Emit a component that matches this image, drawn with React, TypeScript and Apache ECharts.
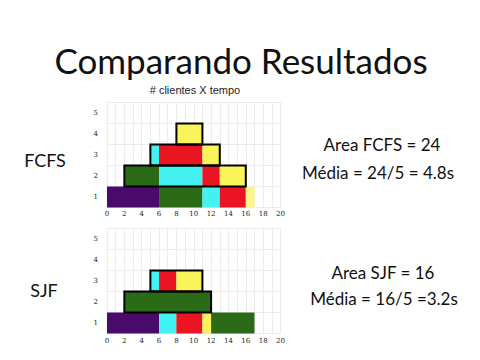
import React, { useEffect, useRef } from "react";
import * as echarts from "echarts";

const rowLabels = ["1", "2", "3", "4", "5"];
const xTicks = [0, 20];

// [start, end, rowIndex, colour key]
const fcfsSegments: [number, number, number, string][] = [
  [0, 6, 0, "purple"], [6, 11, 0, "green"], [11, 13, 0, "cyan"], [13, 16, 0, "red"], [16, 17, 0, "yellowLight"],
  [2, 6, 1, "green"], [6, 11, 1, "cyan"], [11, 13, 1, "red"], [13, 16, 1, "yellow"],
  [5, 6, 2, "cyan"], [6, 11, 2, "red"], [11, 13, 2, "yellow"],
  [8, 11, 3, "yellow"],
];
const fcfsOutlines: [number, number, number][] = [
  [2, 16, 1], [5, 13, 2], [8, 11, 3],
];

const sjfSegments: [number, number, number, string][] = [
  [0, 6, 0, "purple"], [6, 8, 0, "cyan"], [8, 11, 0, "red"], [11, 12, 0, "yellow"], [12, 17, 0, "green"],
  [2, 12, 1, "green"],
  [5, 6, 2, "cyan"], [6, 8, 2, "red"], [8, 11, 2, "yellow"],
];
const sjfOutlines: [number, number, number][] = [
  [2, 12, 1], [5, 11, 2],
];

const palette: Record<string, string> = {
  purple: "#4a0a6c",
  green: "#2b6b18",
  cyan: "#44f2f2",
  red: "#ea1422",
  yellow: "#fbf35a",
  yellowLight: "#fdf58a",
};

export default function App() {
  const ref = useRef<HTMLDivElement>(null);
  useEffect(() => {
    if (!ref.current) return;
    const chart = echarts.init(ref.current, undefined, { renderer: "svg" });

    const mkSegData = (segs: [number, number, number, string][]) =>
      segs.map((s) => ({ value: [s[0], s[1], s[2]], itemStyle: { color: palette[s[3]] } }));

    const segRenderItem = (params: any, api: any) => {
      const p0 = api.coord([api.value(0), api.value(2)]);
      const p1 = api.coord([api.value(1), api.value(2)]);
      const h = api.size([0, 1])[1];
      return {
        type: "rect",
        shape: { x: p0[0], y: p0[1] - h / 2, width: p1[0] - p0[0], height: h },
        style: { fill: api.visual("color") },
      };
    };
    const outRenderItem = (params: any, api: any) => {
      const p0 = api.coord([api.value(0), api.value(2)]);
      const p1 = api.coord([api.value(1), api.value(2)]);
      const h = api.size([0, 1])[1];
      return {
        type: "rect",
        shape: { x: p0[0], y: p0[1] - h / 2, width: p1[0] - p0[0], height: h },
        style: { fill: "none", stroke: "#000", lineWidth: 2 },
      };
    };

    const xAxisCommon = {
      type: "value",
      min: xTicks[0],
      max: xTicks[1],
      interval: 1,
      axisLine: { show: false },
      axisTick: { show: false },
      splitLine: { show: true, lineStyle: { color: "#ececec", width: 1 } },
      axisLabel: {
        fontSize: 7,
        color: "#222",
        margin: 4,
        fontFamily: "DejaVu Serif",
        formatter: (v: number) => (v % 2 === 0 ? String(v) : ""),
      },
    };
    const yAxisCommon = {
      type: "category",
      data: rowLabels,
      axisLine: { show: false },
      axisTick: { show: false },
      splitLine: { show: true, lineStyle: { color: "#ececec", width: 1 } },
      axisLabel: { fontSize: 7, color: "#222", margin: 9, fontFamily: "DejaVu Serif" },
    };

    chart.setOption({
      animation: false,
      backgroundColor: "#ffffff",
      grid: [
        { left: 107, top: 102.5, width: 173.5, height: 105 },
        { left: 107, top: 228.5, width: 173.5, height: 105 },
      ],
      xAxis: [
        { ...xAxisCommon, gridIndex: 0, axisLabel: { ...xAxisCommon.axisLabel, margin: 3 } },
        { ...xAxisCommon, gridIndex: 1 },
      ],
      yAxis: [
        { ...yAxisCommon, gridIndex: 0 },
        { ...yAxisCommon, gridIndex: 1 },
      ],
      series: [
        { type: "custom", xAxisIndex: 0, yAxisIndex: 0, renderItem: segRenderItem, data: mkSegData(fcfsSegments), encode: { x: [0, 1], y: 2 }, z: 2 },
        { type: "custom", xAxisIndex: 0, yAxisIndex: 0, renderItem: outRenderItem, data: fcfsOutlines.map((o) => [o[0], o[1], o[2]]), encode: { x: [0, 1], y: 2 }, z: 3 },
        { type: "custom", xAxisIndex: 1, yAxisIndex: 1, renderItem: segRenderItem, data: mkSegData(sjfSegments), encode: { x: [0, 1], y: 2 }, z: 2 },
        { type: "custom", xAxisIndex: 1, yAxisIndex: 1, renderItem: outRenderItem, data: sjfOutlines.map((o) => [o[0], o[1], o[2]]), encode: { x: [0, 1], y: 2 }, z: 3 },
      ],
      graphic: [
        { type: "text", x: 241, y: 60, style: { text: "Comparando Resultados", font: "35px Lato", fill: "#111", textAlign: "center", textVerticalAlign: "middle" } },
        { type: "text", x: 195, y: 90, style: { text: "# clientes X tempo", font: "11px 'Liberation Sans'", fill: "#222", textAlign: "center", textVerticalAlign: "middle" } },
        { type: "text", x: 45, y: 160, style: { text: "FCFS", font: "18px Lato", fill: "#111", textAlign: "center", textVerticalAlign: "middle" } },
        { type: "text", x: 44, y: 290, style: { text: "SJF", font: "18px Lato", fill: "#111", textAlign: "center", textVerticalAlign: "middle" } },
        { type: "text", x: 382, y: 144, style: { text: "Area FCFS = 24", font: "17px Lato", fill: "#111", textAlign: "center", textVerticalAlign: "middle" } },
        { type: "text", x: 378, y: 172, style: { text: "Média = 24/5 = 4.8s", font: "17px Lato", fill: "#111", textAlign: "center", textVerticalAlign: "middle" } },
        { type: "text", x: 383, y: 272, style: { text: "Area SJF = 16", font: "17px Lato", fill: "#111", textAlign: "center", textVerticalAlign: "middle" } },
        { type: "text", x: 384, y: 298, style: { text: "Média = 16/5 =3.2s", font: "17px Lato", fill: "#111", textAlign: "center", textVerticalAlign: "middle" } },
      ],
    });
    return () => chart.dispose();
  }, []);
  return <div ref={ref} style={{ position: "absolute", left: 0, top: 0, width: 480, height: 360 }} />;
}
